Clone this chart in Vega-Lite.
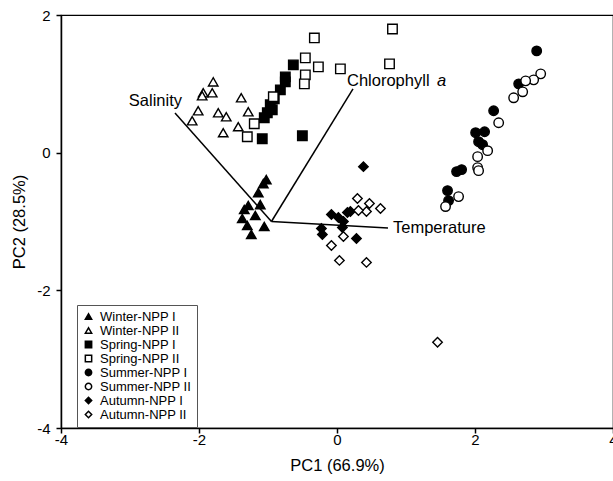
{
  "$schema": "https://vega.github.io/schema/vega-lite/v6.json",
  "width": 552,
  "height": 413,
  "autosize": "none",
  "padding": {"left": 61, "top": 15, "right": 0, "bottom": 53},
  "background": "white",
  "config": {
    "view": {"stroke": "black", "strokeWidth": 1.2},
    "font": "Liberation Sans",
    "axis": {
      "domainColor": "black", "domainWidth": 1.5, "tickColor": "black", "tickWidth": 1.5, "tickSize": 5,
      "labelFont": "Liberation Sans", "labelFontSize": 15, "labelColor": "black",
      "titleFont": "Liberation Sans", "titleFontSize": 16.5, "titleFontWeight": "normal", "titleColor": "black",
      "grid": false
    }
  },
  "datasets": {
    "pts": [
      {"x": -1.794, "y": 1.029, "g": "Winter-NPP II"},
      {"x": -1.939, "y": 0.870, "g": "Winter-NPP II"},
      {"x": -1.808, "y": 0.870, "g": "Winter-NPP II"},
      {"x": -1.954, "y": 0.826, "g": "Winter-NPP II"},
      {"x": -1.388, "y": 0.797, "g": "Winter-NPP II"},
      {"x": -2.012, "y": 0.609, "g": "Winter-NPP II"},
      {"x": -1.721, "y": 0.580, "g": "Winter-NPP II"},
      {"x": -1.605, "y": 0.522, "g": "Winter-NPP II"},
      {"x": -1.286, "y": 0.594, "g": "Winter-NPP II"},
      {"x": -2.099, "y": 0.464, "g": "Winter-NPP II"},
      {"x": -1.431, "y": 0.377, "g": "Winter-NPP II"},
      {"x": -1.649, "y": 0.290, "g": "Winter-NPP II"},
      {"x": -1.025, "y": -0.391, "g": "Winter-NPP I"},
      {"x": -1.068, "y": -0.449, "g": "Winter-NPP I"},
      {"x": -1.141, "y": -0.580, "g": "Winter-NPP I"},
      {"x": -1.286, "y": -0.768, "g": "Winter-NPP I"},
      {"x": -1.344, "y": -0.826, "g": "Winter-NPP I"},
      {"x": -1.112, "y": -0.754, "g": "Winter-NPP I"},
      {"x": -1.184, "y": -0.913, "g": "Winter-NPP I"},
      {"x": -1.373, "y": -0.957, "g": "Winter-NPP I"},
      {"x": -1.300, "y": -1.058, "g": "Winter-NPP I"},
      {"x": -1.054, "y": -1.072, "g": "Winter-NPP I"},
      {"x": -1.242, "y": -1.188, "g": "Winter-NPP I"},
      {"x": -0.633, "y": 1.275, "g": "Spring-NPP I"},
      {"x": -0.749, "y": 1.101, "g": "Spring-NPP I"},
      {"x": -0.749, "y": 1.029, "g": "Spring-NPP I"},
      {"x": -0.821, "y": 0.913, "g": "Spring-NPP I"},
      {"x": -0.909, "y": 0.783, "g": "Spring-NPP I"},
      {"x": -0.967, "y": 0.696, "g": "Spring-NPP I"},
      {"x": -0.938, "y": 0.623, "g": "Spring-NPP I"},
      {"x": -1.010, "y": 0.580, "g": "Spring-NPP I"},
      {"x": -1.054, "y": 0.507, "g": "Spring-NPP I"},
      {"x": -1.083, "y": 0.203, "g": "Spring-NPP I"},
      {"x": -0.502, "y": 0.246, "g": "Spring-NPP I"},
      {"x": -0.328, "y": 1.667, "g": "Spring-NPP II"},
      {"x": -0.459, "y": 1.377, "g": "Spring-NPP II"},
      {"x": -0.270, "y": 1.246, "g": "Spring-NPP II"},
      {"x": -0.459, "y": 1.130, "g": "Spring-NPP II"},
      {"x": -0.473, "y": 1.000, "g": "Spring-NPP II"},
      {"x": 0.049, "y": 1.217, "g": "Spring-NPP II"},
      {"x": 0.804, "y": 1.797, "g": "Spring-NPP II"},
      {"x": 0.761, "y": 1.290, "g": "Spring-NPP II"},
      {"x": -0.923, "y": 0.812, "g": "Spring-NPP II"},
      {"x": -1.199, "y": 0.420, "g": "Spring-NPP II"},
      {"x": -1.300, "y": 0.232, "g": "Spring-NPP II"},
      {"x": 2.894, "y": 1.478, "g": "Summer-NPP I"},
      {"x": 2.633, "y": 1.000, "g": "Summer-NPP I"},
      {"x": 2.270, "y": 0.609, "g": "Summer-NPP I"},
      {"x": 2.009, "y": 0.290, "g": "Summer-NPP I"},
      {"x": 2.139, "y": 0.304, "g": "Summer-NPP I"},
      {"x": 2.052, "y": 0.159, "g": "Summer-NPP I"},
      {"x": 2.110, "y": 0.116, "g": "Summer-NPP I"},
      {"x": 1.733, "y": -0.275, "g": "Summer-NPP I"},
      {"x": 1.806, "y": -0.246, "g": "Summer-NPP I"},
      {"x": 1.602, "y": -0.551, "g": "Summer-NPP I"},
      {"x": 1.617, "y": -0.696, "g": "Summer-NPP I"},
      {"x": 2.952, "y": 1.145, "g": "Summer-NPP II"},
      {"x": 2.850, "y": 1.058, "g": "Summer-NPP II"},
      {"x": 2.734, "y": 1.043, "g": "Summer-NPP II"},
      {"x": 2.691, "y": 0.884, "g": "Summer-NPP II"},
      {"x": 2.560, "y": 0.797, "g": "Summer-NPP II"},
      {"x": 2.343, "y": 0.435, "g": "Summer-NPP II"},
      {"x": 2.183, "y": 0.029, "g": "Summer-NPP II"},
      {"x": 2.038, "y": -0.058, "g": "Summer-NPP II"},
      {"x": 2.038, "y": -0.217, "g": "Summer-NPP II"},
      {"x": 2.052, "y": -0.261, "g": "Summer-NPP II"},
      {"x": 1.762, "y": -0.638, "g": "Summer-NPP II"},
      {"x": 1.573, "y": -0.783, "g": "Summer-NPP II"},
      {"x": 0.383, "y": -0.203, "g": "Autumn-NPP I"},
      {"x": -0.081, "y": -0.899, "g": "Autumn-NPP I"},
      {"x": 0.151, "y": -0.870, "g": "Autumn-NPP I"},
      {"x": 0.093, "y": -1.000, "g": "Autumn-NPP I"},
      {"x": 0.078, "y": -1.087, "g": "Autumn-NPP I"},
      {"x": -0.226, "y": -1.101, "g": "Autumn-NPP I"},
      {"x": -0.212, "y": -1.188, "g": "Autumn-NPP I"},
      {"x": 0.282, "y": -1.246, "g": "Autumn-NPP I"},
      {"x": 0.194, "y": -0.855, "g": "Autumn-NPP I"},
      {"x": 0.020, "y": -0.942, "g": "Autumn-NPP I"},
      {"x": 0.296, "y": -0.667, "g": "Autumn-NPP II"},
      {"x": 0.470, "y": -0.739, "g": "Autumn-NPP II"},
      {"x": 0.630, "y": -0.812, "g": "Autumn-NPP II"},
      {"x": 0.427, "y": -0.855, "g": "Autumn-NPP II"},
      {"x": 0.311, "y": -0.841, "g": "Autumn-NPP II"},
      {"x": 0.093, "y": -1.217, "g": "Autumn-NPP II"},
      {"x": -0.081, "y": -1.348, "g": "Autumn-NPP II"},
      {"x": 0.035, "y": -1.565, "g": "Autumn-NPP II"},
      {"x": 0.427, "y": -1.594, "g": "Autumn-NPP II"},
      {"x": 1.457, "y": -2.754, "g": "Autumn-NPP II"}
    ],
    "vec": [
      {"name": "Salinity", "x0": -0.95, "y0": -1.0, "x1": -2.348, "y1": 0.577},
      {"name": "Chlorophyll", "x0": -0.95, "y0": -1.0, "x1": 0.232, "y1": 0.926},
      {"name": "Temperature", "x0": -0.95, "y0": -1.0, "x1": 0.739, "y1": -1.094}
    ]
  },
  "layer": [
    {
      "data": {"name": "vec"},
      "mark": {"type": "rule", "color": "black", "strokeWidth": 1.5},
      "encoding": {
        "x": {"field": "x0", "type": "quantitative", "scale": {"domain": [-4, 4], "nice": false, "zero": false},
              "axis": {"values": [-4, -2, 0, 2, 4], "title": "PC1 (66.9%)", "labelExpr": "'' + datum.value", "labelPadding": -1, "titlePadding": 10, "labelFlush": false}},
        "y": {"field": "y0", "type": "quantitative", "scale": {"domain": [-4, 2], "nice": false, "zero": false},
              "axis": {"values": [-4, -2, 0, 2], "title": "PC2 (28.5%)", "labelExpr": "'' + datum.value", "labelPadding": 6, "titlePadding": 9, "labelFlush": false}},
        "x2": {"field": "x1"},
        "y2": {"field": "y1"}
      }
    },
    {
      "data": {"name": "vec"},
      "transform": [{"filter": "datum.name == 'Salinity'"}],
      "mark": {"type": "text", "align": "right", "baseline": "middle", "dx": 7, "dy": -12, "fontSize": 16.5, "font": "Liberation Sans", "color": "black"},
      "encoding": {"x": {"field": "x1", "type": "quantitative"}, "y": {"field": "y1", "type": "quantitative"}, "text": {"field": "name"}}
    },
    {
      "data": {"name": "vec"},
      "transform": [{"filter": "datum.name == 'Chlorophyll'"}],
      "mark": {"type": "text", "align": "left", "baseline": "middle", "dx": -6, "dy": -8, "fontSize": 16.5, "font": "Liberation Sans", "color": "black"},
      "encoding": {"x": {"field": "x1", "type": "quantitative"}, "y": {"field": "y1", "type": "quantitative"}, "text": {"field": "name"}}
    },
    {
      "data": {"name": "vec"},
      "transform": [{"filter": "datum.name == 'Chlorophyll'"}],
      "mark": {"type": "text", "align": "left", "baseline": "middle", "dx": 84, "dy": -8, "fontSize": 16.5, "fontStyle": "italic", "font": "Liberation Sans", "color": "black"},
      "encoding": {"x": {"field": "x1", "type": "quantitative"}, "y": {"field": "y1", "type": "quantitative"}, "text": {"value": "a"}}
    },
    {
      "data": {"name": "vec"},
      "transform": [{"filter": "datum.name == 'Temperature'"}],
      "mark": {"type": "text", "align": "left", "baseline": "middle", "dx": 5, "dy": 0, "fontSize": 16.5, "font": "Liberation Sans", "color": "black"},
      "encoding": {"x": {"field": "x1", "type": "quantitative"}, "y": {"field": "y1", "type": "quantitative"}, "text": {"field": "name"}}
    },
    {
      "data": {"name": "pts"},
      "mark": {"type": "point", "filled": true, "stroke": "black", "strokeWidth": 1.4, "size": 90, "opacity": 1},
      "encoding": {
        "x": {"field": "x", "type": "quantitative"},
        "y": {"field": "y", "type": "quantitative"},
        "shape": {"field": "g", "type": "nominal",
          "scale": {"domain": ["Winter-NPP I", "Winter-NPP II", "Spring-NPP I", "Spring-NPP II", "Summer-NPP I", "Summer-NPP II", "Autumn-NPP I", "Autumn-NPP II"],
                    "range": ["triangle-up", "triangle-up", "square", "square", "circle", "circle", "diamond", "diamond"]},
          "legend": {"title": null, "orient": "none", "legendX": 16, "legendY": 290, "padding": 5, "strokeColor": "#555", "fillColor": "white",
                     "labelFontSize": 13, "labelFont": "Liberation Sans", "labelColor": "black", "symbolSize": 40,
                     "rowPadding": 0, "labelOffset": 5, "symbolOpacity": 1,
                     "encode": {"symbols": {"update": {"stroke": {"value": "black"}, "strokeWidth": {"value": 1.3}}}}}},
        "fill": {"field": "g", "type": "nominal",
          "scale": {"domain": ["Winter-NPP I", "Winter-NPP II", "Spring-NPP I", "Spring-NPP II", "Summer-NPP I", "Summer-NPP II", "Autumn-NPP I", "Autumn-NPP II"],
                    "range": ["black", "white", "black", "white", "black", "white", "black", "white"]},
          "legend": {"title": null, "orient": "none", "legendX": 16, "legendY": 290, "padding": 5, "strokeColor": "#555", "fillColor": "white",
                     "labelFontSize": 13, "labelFont": "Liberation Sans", "labelColor": "black", "symbolSize": 40,
                     "rowPadding": 0, "labelOffset": 5, "symbolOpacity": 1,
                     "encode": {"symbols": {"update": {"stroke": {"value": "black"}, "strokeWidth": {"value": 1.3}}}}}}
      }
    }
  ]
}
